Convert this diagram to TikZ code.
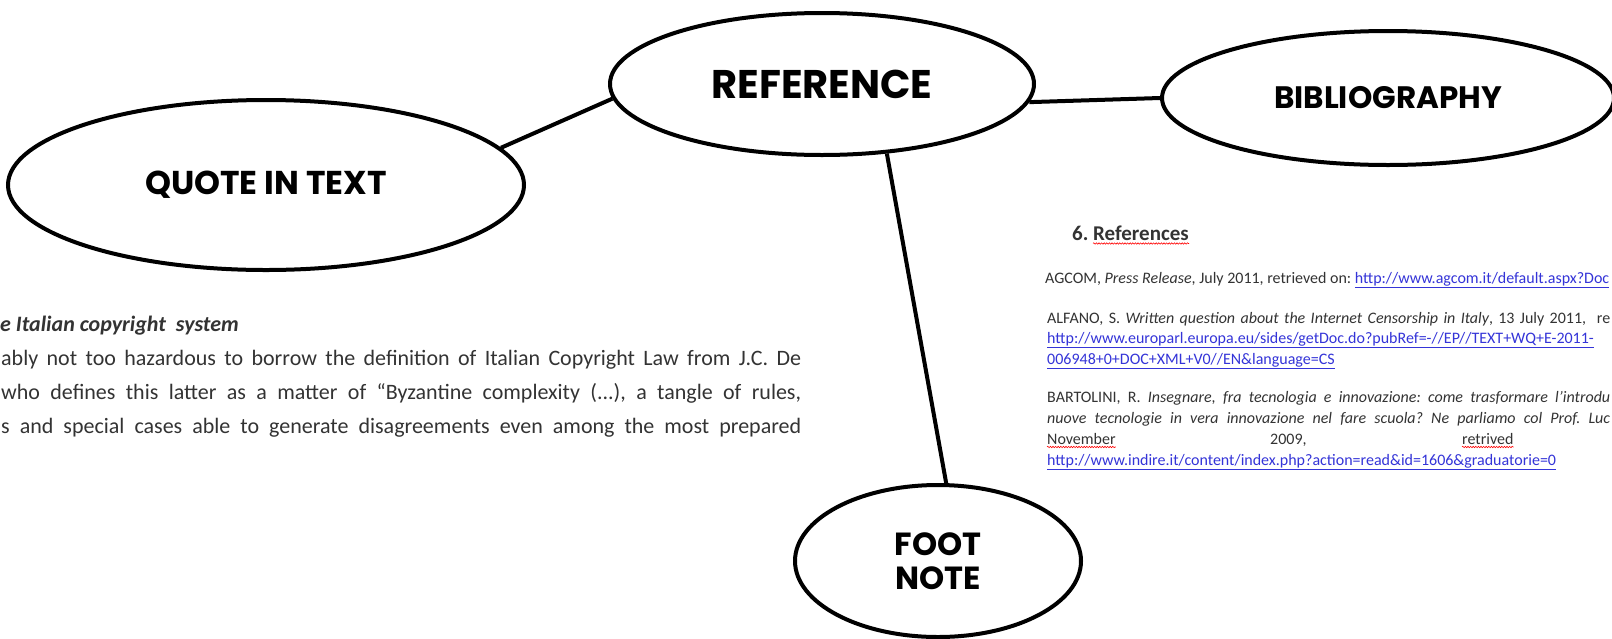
\documentclass[tikz,border=0pt]{standalone}
\usepackage{fontspec}
\setmainfont{Carlito}
\newfontfamily\comic{Poppins}
\usetikzlibrary{shapes.geometric,decorations.pathmorphing}
\definecolor{txt}{HTML}{333333}
\definecolor{lnk}{HTML}{3434D8}
\newcommand{\lk}[1]{\textcolor{lnk}{\underline{#1}}}
\begin{document}
\frenchspacing
\begin{tikzpicture}[x=1pt,y=-1pt,
  bubble/.style={ellipse,draw=black,line width=4pt,fill=white,inner sep=0pt,
    font=\comic\bfseries,text=black},
  conn/.style={line width=4pt,black},
  doc/.style={inner sep=0pt,anchor=base west,text=txt},
  spell/.style={red,line width=0.6pt,decorate,decoration={snake,amplitude=0.7pt,segment length=2.6pt}}]
\clip (0,0) rectangle (1612,638);
\fill[white] (0,0) rectangle (1612,638);

% left excerpt
\begin{scope}[every node/.style={doc,font=\fontsize{22}{26}\selectfont}]
\node (lt) at (0,331) {\textbf{\textit{e Italian copyright\ \ system}}};
\node (l1) at (1,365) {\hbox to 800pt{ably not too hazardous to borrow the definition of Italian Copyright Law from J.C. De}};
\node (l2) at (1,399) {\hbox to 800pt{who defines this latter as a matter of “Byzantine complexity (...), a tangle of rules,}};
\node (l3) at (1,433) {\hbox to 800pt{s and special cases able to generate disagreements even among the most prepared}};
\end{scope}

% right excerpt
\node[doc,font=\fontsize{21}{25}\selectfont\bfseries] (r6) at (1072,240) {6.};
\node[doc,font=\fontsize{21}{25}\selectfont\bfseries] (rf) at (1093,240) {References};
\draw[spell] ([yshift=-3.5pt]rf.base west) -- ([yshift=-3.5pt]rf.base east);
\begin{scope}[every node/.style={doc,font=\fontsize{16}{19}\selectfont}]
\node (b1) at (1045,283) {AGCOM, \textit{Press Release}, July 2011, retrieved on: \lk{http://www.agcom.it/default.aspx?Doc}};
\node (b2) at (1047,323) {\hbox to 563pt{ALFANO, S. \textit{Written question about the Internet Censorship in Italy}, 13 July 2011,\ \ re}};
\node (b3) at (1047,343) {\lk{http://www.europarl.europa.eu/sides/getDoc.do?pubRef=-//EP//TEXT+WQ+E-2011-}};
\node (b4) at (1047,364) {\lk{006948+0+DOC+XML+V0//EN\&language=CS}};
\node (b5) at (1047,402) {\hbox to 563pt{BARTOLINI, R. \textit{Insegnare, fra tecnologia e innovazione: come trasformare l'introdu}}};
\node (b6) at (1047,423) {\hbox to 563pt{\textit{nuove tecnologie in vera innovazione nel fare scuola? Ne parliamo col Prof. Luc}}};
\node (b7a) at (1047,444) {November};
\node (b7b) at (1270,444) {2009,};
\node (b7c) at (1462,444) {retrived};
\node (b8) at (1047,465) {\lk{http://www.indire.it/content/index.php?action=read\&id=1606\&graduatorie=0}};
\end{scope}
\draw[spell] ([yshift=-3pt]b7a.base west) -- ([yshift=-3pt]b7a.base east);
\draw[spell] ([yshift=-3pt]b7c.base west) -- ([yshift=-3pt]b7c.base east);

% bubbles
\node[bubble,minimum width=516pt,minimum height=170pt,font=\comic\bfseries\fontsize{33}{36}\selectfont] (quote) at (266,185) {QUOTE IN TEXT};
\node[bubble,minimum width=424pt,minimum height=142pt,font=\comic\bfseries\fontsize{40}{44}\selectfont] (ref) at (822,84) {REFERENCE};
\node[bubble,minimum width=452pt,minimum height=134pt,font=\comic\bfseries\fontsize{31}{34}\selectfont] (bib) at (1388,98) {BIBLIOGRAPHY};
\node[bubble,minimum width=286pt,minimum height=152pt,align=center,font=\comic\bfseries\fontsize{32}{34}\selectfont] (foot) at (938,561) {FOOT\\NOTE};

% connectors
\draw[conn] (quote.9) -- (ref.184);
\draw[conn] (ref.-5) -- (bib.west);
\draw[conn] (ref.-47) -- (foot.84);
\end{tikzpicture}
\end{document}
